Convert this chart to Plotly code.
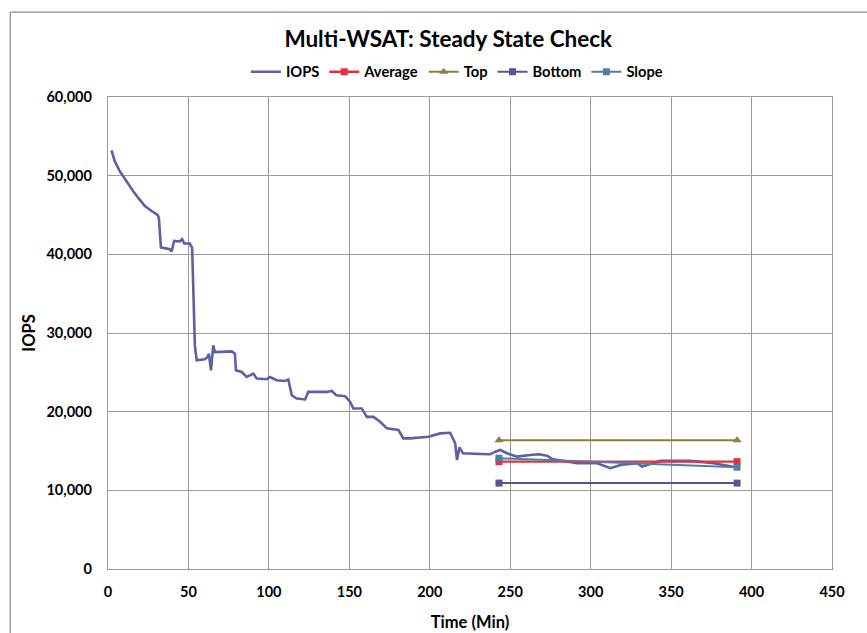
import plotly.graph_objects as go

# IOPS over time (minutes), steady state check
time_min = [2.2, 4.2, 7.3, 9.4, 12.5, 15.6, 18.7, 22.9, 27.1, 30.8, 31.6, 32.9, 35.3, 38.4,
            39.5, 41.1, 44.7, 46.1, 47.4, 50.9, 52.3, 54.0, 55.1, 60.2, 61.9, 62.7, 64.0,
            65.4, 66.5, 76.9, 78.9, 79.5, 83.1, 86.2, 90.3, 92.4, 98.6, 100.7, 104.9, 110.0,
            112.1, 114.2, 117.3, 122.5, 124.5, 136.0, 139.1, 141.8, 147.4, 150.5, 152.5,
            157.7, 160.9, 165.0, 169.1, 173.3, 180.5, 183.6, 187.8, 199.2, 206.5, 212.7,
            215.8, 216.9, 218.5, 220.6, 231.4, 237.6, 240.7, 243.8, 248.0, 254.2, 262.5,
            267.6, 272.9, 276.0, 291.5, 304.0, 312.3, 318.5, 328.8, 331.9, 343.3, 362.0,
            376.5, 389.0, 391.1]
iops = [53200, 51840, 50580, 49940, 48890, 48040, 47200, 46140, 45510, 45000, 44660, 40870,
        40790, 40660, 40360, 41710, 41630, 41930, 41370, 41370, 40830, 28420, 26520, 26650,
        26940, 27370, 25260, 28420, 27570, 27660, 27370, 25260, 25040, 24410, 24840, 24210,
        24120, 24410, 23990, 23900, 24080, 22090, 21670, 21550, 22510, 22510, 22640, 22090,
        21960, 21240, 20410, 20410, 19340, 19340, 18710, 17880, 17660, 16610, 16610, 16810,
        17240, 17320, 15980, 13860, 15470, 14710, 14620, 14580, 14910, 15130, 14710, 14280,
        14500, 14580, 14410, 13990, 13440, 13440, 12810, 13230, 13440, 13010, 13740, 13740,
        13440, 13010, 12890]

# Measurement window and its reference lines
window_min = [243, 391]
average = [13650, 13650]
top = [16380, 16380]
bottom = [10920, 10920]
slope = [14080, 12940]

x_ticks = [0, 50, 100, 150, 200, 250, 300, 350, 400, 450]
y_ticks = [0, 10000, 20000, 30000, 40000, 50000, 60000]

FONT = "Lato"
GRID = "#9a9a9a"

fig = go.Figure()
fig.add_trace(go.Scatter(x=time_min, y=iops, name="<b>IOPS</b>", mode="lines",
                         line=dict(color="#5d60a5", width=2.6)))
fig.add_trace(go.Scatter(x=window_min, y=average, name="<b>Average</b>", mode="lines+markers",
                         line=dict(color="#e0323c", width=2.4),
                         marker=dict(symbol="square", size=7, color="#e0323c")))
fig.add_trace(go.Scatter(x=window_min, y=top, name="<b>Top</b>", mode="lines+markers",
                         line=dict(color="#8e7f3e", width=2),
                         marker=dict(symbol="triangle-up", size=8, color="#8e7f3e")))
fig.add_trace(go.Scatter(x=window_min, y=bottom, name="<b>Bottom</b>", mode="lines+markers",
                         line=dict(color="#5e5294", width=2),
                         marker=dict(symbol="square", size=7, color="#5e5294")))
fig.add_trace(go.Scatter(x=window_min, y=slope, name="<b>Slope</b>", mode="lines+markers",
                         line=dict(color="#4f7fa8", width=2),
                         marker=dict(symbol="square", size=7, color="#4f7fa8")))

axis_common = dict(showgrid=True, gridcolor=GRID, gridwidth=1.4, showline=True,
                   linecolor=GRID, linewidth=1.4, mirror=True, zeroline=False,
                   ticks="", tickfont=dict(family=FONT, size=14.5, color="#000000"))

fig.update_xaxes(range=[0, 450], tickvals=x_ticks,
                 ticktext=[f"<b>{v}</b>" for v in x_ticks], ticklabelstandoff=9,
                 title=dict(text="<b>Time (Min)</b>", font=dict(family=FONT, size=16.5, color="#000"),
                            standoff=17),
                 **axis_common)
fig.update_yaxes(range=[0, 60000], tickvals=y_ticks,
                 ticktext=[f"<b>{v:,}</b>" for v in y_ticks], ticklabelstandoff=12,
                 title=dict(text="<b>IOPS</b>", font=dict(family=FONT, size=16.5, color="#000"),
                            standoff=6),
                 **axis_common)

# Outer chart frame (left and top edges)
fig.add_shape(type="line", xref="paper", yref="paper", x0=-0.135, x1=1.2, y0=1.18, y1=1.18,
              line=dict(color="#8a8a8a", width=1.2))
fig.add_shape(type="line", xref="paper", yref="paper", x0=-0.135, x1=-0.135, y0=-0.2, y1=1.18,
              line=dict(color="#8a8a8a", width=1.2))

fig.update_layout(
    width=867, height=633,
    margin=dict(l=108, r=35, t=97, b=64, autoexpand=False),
    paper_bgcolor="white", plot_bgcolor="white",
    title=dict(text="<b>Multi-WSAT: Steady State Check</b>", x=0.517, xref="container",
               xanchor="center", y=0.938, yref="container", yanchor="middle",
               font=dict(family=FONT, size=22.5, color="#000000")),
    legend=dict(orientation="h", x=0.527, xref="container", xanchor="center",
                y=0.886, yref="container", yanchor="middle",
                font=dict(family=FONT, size=14.7, color="#000000"),
                itemwidth=30, tracegroupgap=0, bgcolor="rgba(0,0,0,0)"),
    showlegend=True,
)

fig.write_html("out.html")
